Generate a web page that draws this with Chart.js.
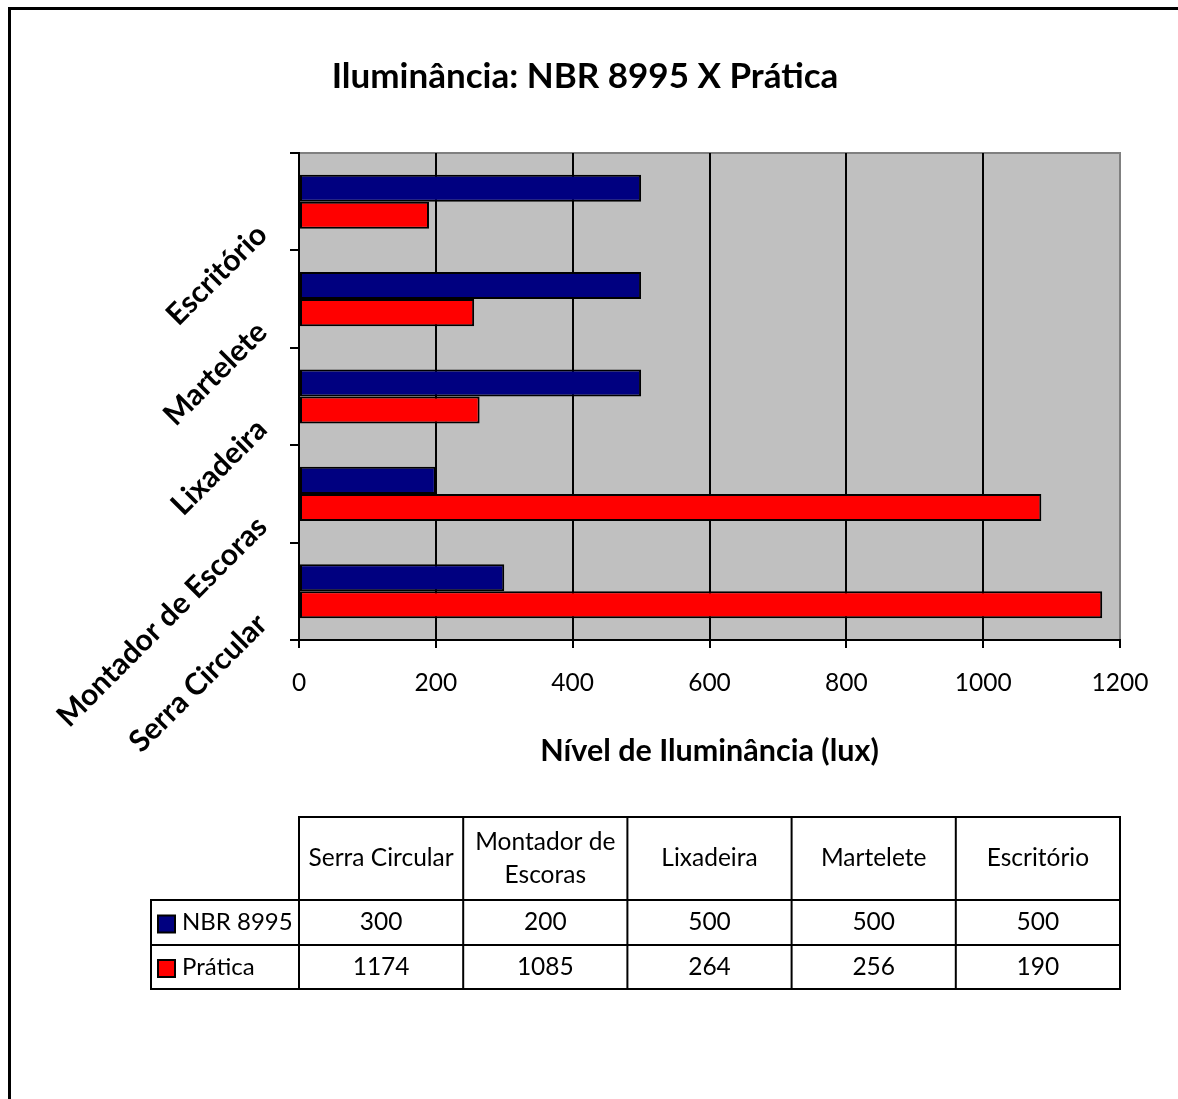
<!DOCTYPE html>
<html>
<head>
<meta charset="utf-8">
<script src="https://cdn.jsdelivr.net/npm/chart.js@4.4.0/dist/chart.umd.min.js"></script>
<style>
  html, body { margin: 0; padding: 0; background: #fff; overflow: hidden; width: 1178px; height: 1099px; }
  #moldura { position: absolute; left: 8px; top: 7px; width: 1250px; height: 1150px;
             border-left: 3px solid #000; border-top: 3px solid #000; }
  #myChart { position: absolute; left: 0; top: 0; }
</style>
</head>
<body>
<div id="moldura"></div>
<canvas id="myChart" width="1178" height="1099"></canvas>
<script>
// dados da tabela
const categorias = ['Serra Circular', 'Montador de Escoras', 'Lixadeira', 'Martelete', 'Escritório'];
const nbr8995 = [300, 200, 500, 500, 500];
const pratica = [1174, 1085, 264, 256, 190];
const series = ['NBR 8995', 'Prática'];
const escalaX = [0, 200, 400, 600, 800, 1000, 1200];

const cores = ['#000080', '#ff0000'];
const fonte = 'Lato';
const margemEsq = 50; // espaco a esquerda (tambem centra o titulo)

// fundo cinza da area do grafico
const fundo = {
  id: 'fundo',
  beforeDraw(chart) {
    const { ctx, chartArea: a } = chart;
    ctx.save();
    ctx.fillStyle = '#c0c0c0';
    ctx.fillRect(a.left, a.top, a.right - a.left, a.bottom - a.top);
    ctx.strokeStyle = '#808080';
    ctx.lineWidth = 2;
    ctx.beginPath();
    ctx.moveTo(a.left, a.top);
    ctx.lineTo(a.right, a.top);
    ctx.lineTo(a.right, a.bottom);
    ctx.stroke();
    ctx.restore();
  }
};

// tabela de dados embaixo do grafico
const tabela = {
  id: 'tabela',
  afterDraw(chart) {
    const { ctx, chartArea: a } = chart;
    const colW = (a.right - a.left) / categorias.length;
    const x0 = 151, yTop = 817, yHead = 900, yMeio = 945, yFim = 989;
    const valores = [nbr8995, pratica];
    ctx.save();
    ctx.strokeStyle = '#000';
    ctx.lineWidth = 2;
    ctx.strokeRect(a.left, yTop, a.right - a.left, yHead - yTop);
    ctx.strokeRect(x0, yHead, a.right - x0, yFim - yHead);
    ctx.beginPath();
    ctx.moveTo(x0, yMeio); ctx.lineTo(a.right, yMeio);
    for (let i = 0; i < categorias.length; i++) {
      const x = a.left + i * colW;
      ctx.moveTo(x, i === 0 ? yHead : yTop);
      ctx.lineTo(x, yFim);
    }
    ctx.stroke();

    ctx.fillStyle = '#000';
    ctx.font = '24.5px ' + fonte;
    ctx.textAlign = 'center';
    ctx.textBaseline = 'middle';
    categorias.forEach((c, i) => {
      const cx = a.left + (i + 0.5) * colW;
      // quebra de linha simples
      const palavras = c.split(' ');
      const linhas = [];
      let atual = '';
      palavras.forEach(p => {
        const t = atual ? atual + ' ' + p : p;
        if (ctx.measureText(t).width > colW - 8 && atual) { linhas.push(atual); atual = p; }
        else atual = t;
      });
      linhas.push(atual);
      const lh = 33;
      const y0 = (yTop + yHead) / 2 - (linhas.length - 1) * lh / 2;
      linhas.forEach((l, k) => ctx.fillText(l, cx, y0 + k * lh));
      valores.forEach((v, s) => {
        const cy = s === 0 ? (yHead + yMeio) / 2 : (yMeio + yFim) / 2;
        ctx.fillText(String(v[i]), cx, cy);
      });
    });

    // legenda dentro da tabela
    ctx.textAlign = 'left';
    ctx.font = '24px ' + fonte;
    series.forEach((nome, s) => {
      const cy = s === 0 ? (yHead + yMeio) / 2 : (yMeio + yFim) / 2;
      ctx.fillStyle = cores[s];
      ctx.fillRect(158, cy - 7, 17, 17);
      ctx.strokeRect(158, cy - 7, 17, 17);
      ctx.fillStyle = '#000';
      ctx.fillText(nome, 182, cy);
    });
    ctx.restore();
  }
};

const ctx = document.getElementById('myChart');
new Chart(ctx, {
  type: 'bar',
  data: {
    labels: categorias,
    datasets: [{
      label: series[0],
      data: nbr8995,
      backgroundColor: cores[0],
      borderColor: '#000',
      borderWidth: 2,
      borderSkipped: false,
      categoryPercentage: 0.555,
      barPercentage: 1
    }, {
      label: series[1],
      data: pratica,
      backgroundColor: cores[1],
      borderColor: '#000',
      borderWidth: 2,
      borderSkipped: false,
      categoryPercentage: 0.555,
      barPercentage: 1
    }]
  },
  options: {
    indexAxis: 'y',
    responsive: false,
    animation: false,
    layout: { padding: { left: margemEsq, right: 58, top: 0, bottom: 0 } },
    plugins: {
      legend: { display: false },
      tooltip: { enabled: false },
      title: {
        display: true,
        text: 'Iluminância: NBR 8995 X Prática',
        color: '#000',
        font: { family: fonte, size: 35, weight: 'bold' },
        padding: { top: 56, bottom: 55 }
      }
    },
    scales: {
      x: {
        min: escalaX[0],
        max: escalaX[escalaX.length - 1],
        ticks: {
          stepSize: escalaX[1] - escalaX[0],
          callback: v => String(v),
          color: '#000',
          font: { family: fonte, size: 24.5 },
          padding: 20
        },
        grid: {
          color: c => (c.tick && c.tick.value === escalaX[escalaX.length - 1]) ? '#808080' : '#000',
          tickColor: '#000',
          lineWidth: 2,
          tickLength: 8
        },
        border: { color: '#000', width: 2 },
        title: {
          display: true,
          text: 'Nível de Iluminância (lux)',
          color: '#000',
          font: { family: fonte, size: 30.5, weight: 'bold' },
          padding: { top: 0, bottom: 329.7 }
        },
        afterFit(s) { s.height = 459; }
      },
      y: {
        reverse: true,
        ticks: {
          color: '#000',
          font: { family: fonte, size: 30, weight: 'bold' },
          minRotation: 45,
          maxRotation: 45,
          labelOffset: 28,
          padding: 28,
          autoSkip: false
        },
        grid: { drawOnChartArea: false, color: '#000', lineWidth: 2, tickLength: 9 },
        border: { color: '#000', width: 2 },
        afterFit(s) { s.width = 299 - margemEsq; }
      }
    }
  },
  plugins: [fundo, tabela]
});
</script>
</body>
</html>
